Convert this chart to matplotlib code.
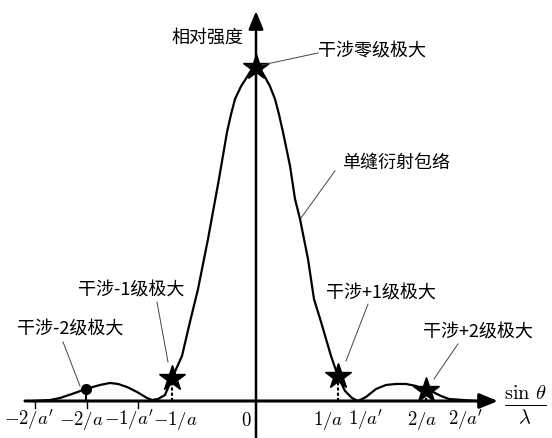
import matplotlib
matplotlib.use('Agg')
import matplotlib.pyplot as plt

plt.rcParams['font.family'] = ['Noto Sans CJK SC', 'DejaVu Sans']
plt.rcParams['mathtext.fontset'] = 'cm'

# envelope curve (x in units of 1/a', intensity relative to peak)
env_x = [-2.23, -2.06, -1.96, -1.84, -1.70, -1.56, -1.46, -1.38, -1.29, -1.19,
         -1.09, -1.04, -0.98, -0.91, -0.84, -0.74, -0.66, -0.58, -0.48, -0.37,
         -0.29, -0.25, -0.21, -0.15, -0.09, -0.045, 0.0, 0.045, 0.09, 0.14,
         0.19, 0.23, 0.27, 0.34, 0.39, 0.44,
         0.52, 0.58, 0.65, 0.75, 0.82, 0.89, 0.96, 1.02, 1.10, 1.20,
         1.30, 1.40, 1.50, 1.60, 1.70, 1.77, 1.85, 1.93, 2.07, 2.20]
env_y = [0.0, 0.003, 0.009, 0.021, 0.036, 0.048, 0.054, 0.051, 0.042, 0.027,
         0.009, 0.003, 0.006, 0.018, 0.068, 0.135, 0.237, 0.335, 0.485, 0.665,
         0.805, 0.858, 0.904, 0.942, 0.970, 0.992, 1.0, 0.992, 0.970, 0.942,
         0.904, 0.858, 0.805, 0.704, 0.605, 0.545,
         0.425, 0.305, 0.237, 0.135, 0.074, 0.030, 0.009, 0.0, 0.012, 0.036,
         0.048, 0.051, 0.051, 0.045, 0.033, 0.027, 0.015, 0.006, 0.003, 0.0]

# interference maxima
star_x = [-0.84, 0.0, 0.82, 1.70]
star_y = [0.068, 1.0, 0.074, 0.033]
dot_x = [-1.70]
dot_y = [0.036]

tick_pos = [-2.27, -1.75, -1.27, -0.81, -0.10, 0.72, 1.10, 1.66, 2.10]
tick_labels = [r"$-2/a'$", r"$-2/a$", r"$-1/a'$", r"$-1/a$", r"$0$",
               r"$1/a$", r"$1/a'$", r"$2/a$", r"$2/a'$"]
minor_ticks = [-2.21, -1.69, -1.18]

# annotations: text, text position, leader start, leader end
notes = [
    ('干涉零级极大', (0.62, 1.048), 'left', (0.62, 1.042), (0.06, 1.006)),
    ('单缝衍射包络', (0.86, 0.716), 'left', (0.79, 0.689), (0.45, 0.548)),
    ('干涉-1级极大', (-1.25, 0.335), 'center', (-0.99, 0.296), (-0.88, 0.117)),
    ('干涉-2级极大', (-1.86, 0.216), 'center', (-1.93, 0.177), (-1.76, 0.045)),
    ('干涉+1级极大', (1.25, 0.326), 'center', (1.12, 0.290), (0.90, 0.120)),
    ('干涉+2级极大', (2.22, 0.207), 'center', (2.02, 0.171), (1.78, 0.066)),
]

fig = plt.figure(figsize=(5.52, 4.39), dpi=100)
ax = fig.add_axes([0, 0, 1, 1])
ax.set_xlim(-2.56, 2.96)
ax.set_ylim(-37 / 334, 402 / 334)
ax.axis('off')

# axes with arrows
ax.annotate('', xy=(2.42, 0), xytext=(-2.31, 0),
            arrowprops=dict(arrowstyle='-|>,head_length=1.1,head_width=0.45',
                            color='black', lw=2.2, shrinkA=0, shrinkB=0))
ax.annotate('', xy=(0, 390 / 334), xytext=(0, -37 / 334),
            arrowprops=dict(arrowstyle='-|>,head_length=1.1,head_width=0.45',
                            color='black', lw=1.8, shrinkA=0, shrinkB=0))

ax.plot(env_x, env_y, color='black', lw=1.6, solid_joinstyle='round')

for x, y in zip(star_x, star_y):
    if x != 0.0:
        ax.plot([x, x], [0, y], color='black', lw=1.5, ls=(0, (1.5, 1)))
ax.plot([dot_x[0], dot_x[0]], [0, dot_y[0]], color='black', lw=1.5)
ax.plot(star_x, star_y, ls='none', marker='*', ms=19, color='black')
ax.plot(dot_x, dot_y, ls='none', marker='o', ms=7, color='black')

for x in minor_ticks:
    ax.plot([x, x], [0, -0.02], color='black', lw=1)

for x, lab in zip(tick_pos, tick_labels):
    ax.text(x, -0.054, lab, ha='center', va='center', fontsize=13.5)

ax.text(2.69, -0.012, r'$\frac{\sin\,\theta}{\lambda}$', ha='center',
        va='center', fontsize=21)
ax.text(-0.13, 1.09, '相对强度', ha='right', va='center', fontsize=13)

for txt, pos, ha, p0, p1 in notes:
    ax.text(pos[0], pos[1], txt, ha=ha, va='center', fontsize=13)
    ax.plot([p0[0], p1[0]], [p0[1], p1[1]], color='#444444', lw=0.7)

fig.savefig('out.png', dpi=100)
